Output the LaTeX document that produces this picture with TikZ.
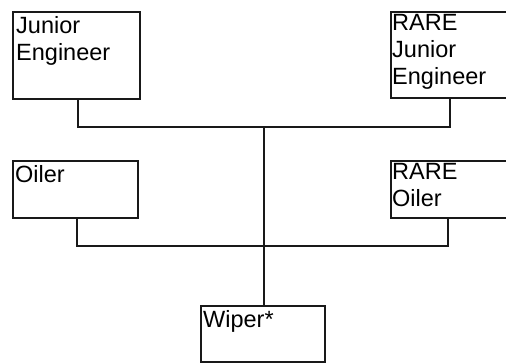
\documentclass[tikz,border=0pt]{standalone}
\usepackage{fontspec}
\setmainfont{Liberation Sans}
\usetikzlibrary{calc}
\begin{document}
\begin{tikzpicture}[x=1pt,y=-1pt,
  box/.style={draw=black!90, line width=2pt, rectangle, inner sep=0pt, anchor=north west},
  lbl/.style={inner sep=0pt, anchor=north west, align=left, font=\fontsize{23.5}{27}\selectfont},
  wire/.style={draw=black!90, line width=2pt}]
\useasboundingbox (0,0) rectangle (506,362);
\node[box, minimum width=127pt, minimum height=87pt] (je) at (12,11) {};
\node[box, minimum width=130pt, minimum height=86pt] (rje) at (390,11) {};
\node[box, minimum width=125pt, minimum height=57pt] (oil) at (12,160) {};
\node[box, minimum width=130pt, minimum height=57pt] (roil) at (390,160) {};
\node[box, minimum width=124pt, minimum height=56pt] (wip) at (200,305) {};
\node[lbl] (jet) at ([xshift=4pt,yshift=-5pt]je.north west) {Junior\\Engineer};
\node[lbl] (rjet) at ([xshift=2pt,yshift=-3pt]rje.north west) {RARE\\Junior\\Engineer};
\node[lbl] (oilt) at ([xshift=3pt,yshift=-5pt]oil.north west) {Oiler};
\node[lbl] (roilt) at ([xshift=2pt,yshift=-3pt]roil.north west) {RARE\\Oiler};
\node[lbl] (wipt) at ([xshift=3pt,yshift=-5pt]wip.north west) {Wiper*};
\coordinate (j1) at (264,127);
\coordinate (j2) at (264,246);
\draw[wire] ([xshift=1.5pt]je.south) |- (j1);
\draw[wire] ($(rje.south west)+(60,0)$) |- (j1);
\draw[wire] (j1) -- (j2);
\draw[wire] ([xshift=1pt]oil.south) |- (j2);
\draw[wire] ($(roil.south west)+(58,0)$) |- (j2);
\draw[wire] (j2) -- (wip.north -| j2);
\end{tikzpicture}
\end{document}
